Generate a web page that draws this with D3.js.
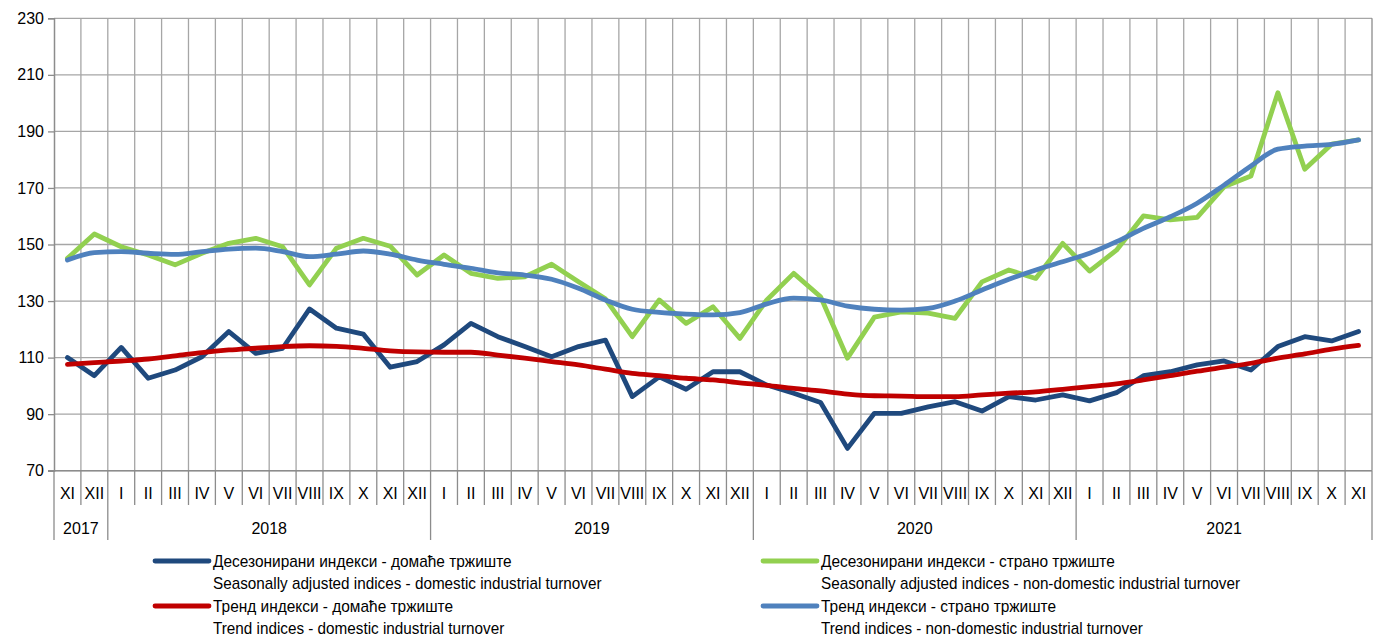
<!DOCTYPE html>
<html><head><meta charset="utf-8">
<script src="https://cdn.jsdelivr.net/npm/d3@7/dist/d3.min.js"></script>
<style>
body{margin:0;background:#fff;}
svg text{font-family:"Liberation Sans Narrow","Arial Narrow","Liberation Sans",Arial,sans-serif;fill:#000;}
</style></head><body>
<svg id="c" width="1379" height="640"></svg>
<script>
const months = ["XI","XII","I","II","III","IV","V","VI","VII","VIII","IX","X","XI","XII","I","II","III","IV","V","VI","VII","VIII","IX","X","XI","XII","I","II","III","IV","V","VI","VII","VIII","IX","X","XI","XII","I","II","III","IV","V","VI","VII","VIII","IX","X","XI"];
const years = [{label:"2017",start:0,end:2},{label:"2018",start:2,end:14},{label:"2019",start:14,end:26},{label:"2020",start:26,end:38},{label:"2021",start:38,end:49}];
const yTicks = [70,90,110,130,150,170,190,210,230];

const saDomestic = [110,103.6,113.6,102.7,105.6,110.3,119.2,111.5,113.3,127.2,120.4,118.3,106.6,108.6,114.5,122.1,117.4,113.9,110.3,113.9,116.2,96.2,103.2,98.8,105,105,100.3,97.4,94.1,77.9,90.3,90.3,92.6,94.4,91.1,96.2,95,96.8,94.7,97.6,103.6,105,107.4,108.8,105.6,113.9,117.4,115.9,119.2];
const saForeign = [145.1,153.7,149.2,146.3,142.8,146.9,150.4,152.2,149.2,135.7,148.7,152.2,149.4,139.2,146.3,139.8,138,138.6,143,136.8,130.8,117.4,130.4,122.1,128,116.8,130.4,139.8,131.5,109.8,124.3,126.2,125.7,123.9,136.8,141,138,150.4,140.6,148,160.1,158.7,159.6,170.4,174.2,203.7,176.6,185.5,187];
const trendDomestic = [107.6,108.2,108.8,109.5,110.6,111.8,112.7,113.3,113.9,114.2,114,113.3,112.4,112,111.9,111.9,110.9,109.8,108.6,107.4,105.9,104.4,103.6,102.7,102.1,101.1,100.2,99.1,98.2,97.1,96.5,96.4,96.2,96.2,96.8,97.4,97.9,98.8,99.7,100.7,102.1,103.6,105.2,106.6,108,109.8,111.3,113,114.3];
const trendForeign = [144.5,147.1,147.5,146.9,146.5,147.5,148.4,148.7,147.5,145.7,146.6,147.7,146.6,144.5,143,141.6,140,139.2,137.7,134.5,130.4,127.1,126,125.4,125.1,125.9,129,131,130.4,128.2,127.1,126.8,127.4,130,133.9,137.7,141,143.9,146.9,151,155.7,159.8,164.6,171,177.8,183.7,184.8,185.4,187];

const series = [
  {name:"saDomestic", values:saDomestic, color:"#1f497d", smooth:false, sr:"Десезонирани индекси - домаће тржиште", en:"Seasonally adjusted indices - domestic industrial turnover"},
  {name:"saForeign", values:saForeign, color:"#92d050", smooth:false, sr:"Десезонирани индекси - страно тржиште", en:"Seasonally adjusted indices - non-domestic industrial turnover"},
  {name:"trendDomestic", values:trendDomestic, color:"#c00000", smooth:true, sr:"Тренд индекси - домаће тржиште", en:"Trend indices - domestic industrial turnover"},
  {name:"trendForeign", values:trendForeign, color:"#4f81bd", smooth:true, sr:"Тренд индекси - страно тржиште", en:"Trend indices - non-domestic industrial turnover"}
];

const svg = d3.select("#c");
const L = 54, R = 1372, T = 18.3, B = 470.7;
const x = d3.scaleBand().domain(d3.range(months.length)).range([L,R]).padding(0);
const y = d3.scaleLinear().domain([70,230]).range([B,T]);
const bw = x.bandwidth();
const cx = i => x(i) + bw/2;
const gridColor = "#a6a6a6";

svg.append("g").selectAll("line").data(yTicks).join("line")
  .attr("x1",L).attr("x2",R).attr("y1",d=>y(d)).attr("y2",d=>y(d))
  .attr("stroke",gridColor).attr("stroke-width",1.3);
svg.append("g").selectAll("line").data(d3.range(1,months.length)).join("line")
  .attr("x1",d=>x(d)).attr("x2",d=>x(d)).attr("y1",T).attr("y2",B)
  .attr("stroke",gridColor).attr("stroke-width",1.3);
svg.append("line").attr("x1",R).attr("x2",R).attr("y1",T).attr("y2",B).attr("stroke","#8c8c8c").attr("stroke-width",1.3);

const yAxis = d3.axisLeft(y).tickValues(yTicks).tickSize(6).tickPadding(4);
const gy = svg.append("g").attr("transform",`translate(${L},0)`).call(yAxis);
gy.select(".domain").attr("stroke","#8c8c8c").attr("stroke-width",1.5);
gy.selectAll(".tick line").attr("stroke","#8c8c8c").attr("stroke-width",1.3);
gy.selectAll(".tick text").style("font-size","16px").attr("fill","#000");

svg.append("line").attr("x1",L-6).attr("x2",R).attr("y1",B).attr("y2",B).attr("stroke","#8c8c8c").attr("stroke-width",1.5);
svg.append("g").selectAll("line").data(d3.range(0,months.length+1)).join("line")
  .attr("x1",d=> d===months.length? R : x(d)).attr("x2",d=> d===months.length? R : x(d))
  .attr("y1",B).attr("y2",505).attr("stroke","#8c8c8c").attr("stroke-width",1.3);
const yb = [0].concat(years.map(d=>d.end));
svg.append("g").selectAll("line").data(yb).join("line")
  .attr("x1",d=> d===months.length? R : x(d)).attr("x2",d=> d===months.length? R : x(d))
  .attr("y1",505).attr("y2",540).attr("stroke","#8c8c8c").attr("stroke-width",1.3);
svg.append("g").selectAll("text").data(months).join("text")
  .attr("x",(d,i)=>cx(i)).attr("y",499).attr("text-anchor","middle")
  .style("font-size","16px").text(d=>d);
svg.append("g").selectAll("text").data(years).join("text")
  .attr("x",d=>(x(d.start) + (d.end===months.length? R : x(d.end)))/2).attr("y",534).attr("text-anchor","middle")
  .style("font-size","16px").text(d=>d.label);

const lineLin = d3.line().x((d,i)=>cx(i)).y(d=>y(d));
const lineSm = d3.line().x((d,i)=>cx(i)).y(d=>y(d)).curve(d3.curveMonotoneX);
svg.append("g").selectAll("path").data(series).join("path")
  .attr("d",s=> (s.smooth? lineSm : lineLin)(s.values))
  .attr("fill","none").attr("stroke",s=>s.color).attr("stroke-width",4.8)
  .attr("stroke-linejoin","round").attr("stroke-linecap","round");

const legPos = [
  {s:series[0], x:155, y:561},
  {s:series[2], x:155, y:606},
  {s:series[1], x:763, y:561},
  {s:series[3], x:763, y:606}
];
const lg = svg.append("g");
legPos.forEach(p=>{
  lg.append("line").attr("x1",p.x).attr("x2",p.x+54).attr("y1",p.y).attr("y2",p.y)
    .attr("stroke",p.s.color).attr("stroke-width",4.8).attr("stroke-linecap","round");
  lg.append("text").attr("transform",`translate(${p.x+58},${p.y+6}) scale(0.965,1)`).style("font-size","16px").text(p.s.sr);
  lg.append("text").attr("transform",`translate(${p.x+58},${p.y+28}) scale(0.955,1)`).style("font-size","16px").text(p.s.en);
});
</script>
</body></html>
